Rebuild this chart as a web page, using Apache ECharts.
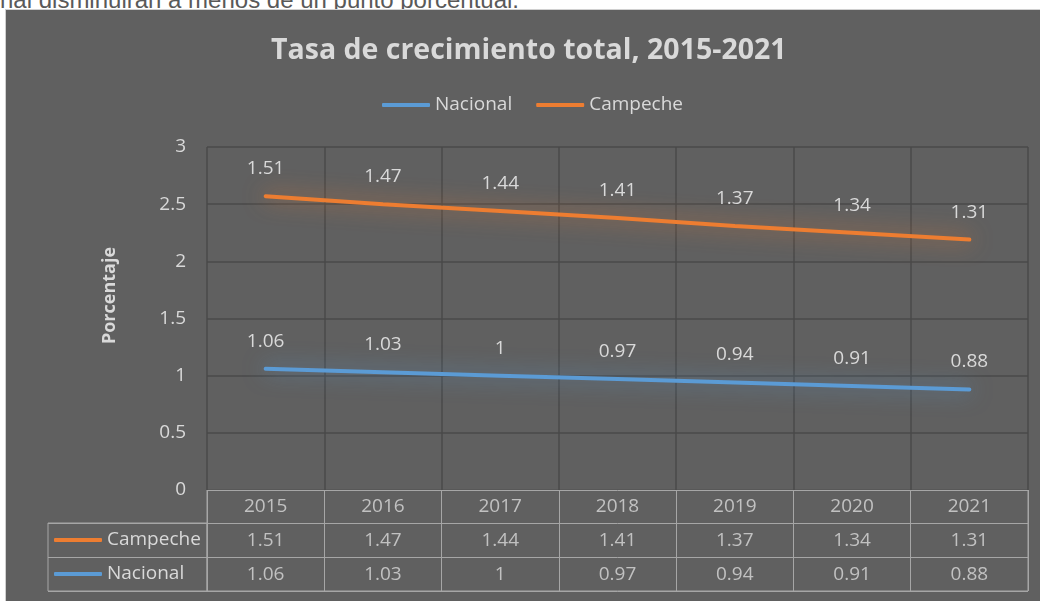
<!DOCTYPE html>
<html>
<head>
<meta charset="utf-8">
<script src="https://cdn.jsdelivr.net/npm/echarts@6/dist/echarts.min.js"></script>
<style>
  html, body { margin: 0; padding: 0; background: #fff; width: 1040px; height: 601px; overflow: hidden; position: relative; }
  #note { position: absolute; left: 0; top: -12px; line-height: 24px; font-family: 'Liberation Sans', Arial, sans-serif; font-size: 24px; color: #595959; white-space: nowrap; }
  #panel { position: absolute; left: 5px; top: 9px; width: 1040px; height: 600px; background: #606060; border: 1px solid #d0d0d0; }
  #chart { position: absolute; left: 0; top: 0; width: 1040px; height: 601px; }
</style>
</head>
<body>
<div id="note">nal disminuirán a menos de un punto porcentual.</div>
<div id="panel"></div>
<div id="chart"></div>
<script>
(function () {
  'use strict';

  var years = ['2015', '2016', '2017', '2018', '2019', '2020', '2021'];
  var nacional = [1.06, 1.03, 1, 0.97, 0.94, 0.91, 0.88];
  var campeche = [1.51, 1.47, 1.44, 1.41, 1.37, 1.34, 1.31];
  var tableRows = ['year', 'Campeche', 'Nacional'];

  var FONT = "'Open Sans', sans-serif";
  var TEXT = '#d9d9d9';
  var GRID_DARK = '#4a4a4a';
  var TABLE_LINE = '#a6a6a6';
  var SIZE = 19;

  function cellData() {
    var out = [];
    for (var i = 0; i < years.length; i += 1) {
      out.push([years[i], 'year', years[i]]);
      out.push([years[i], 'Campeche', String(campeche[i])]);
      out.push([years[i], 'Nacional', String(nacional[i])]);
    }
    return out;
  }

  function lineSeries(name, values, color, glow) {
    return {
      name: name,
      type: 'line',
      stack: 'total',
      data: values,
      xAxisIndex: 0,
      yAxisIndex: 0,
      symbol: 'circle',
      symbolSize: 0,
      showSymbol: true,
      itemStyle: { color: color },
      lineStyle: { width: 4, color: color, cap: 'round', shadowBlur: 22, shadowColor: glow },
      label: {
        show: true,
        position: 'top',
        distance: 18,
        color: TEXT,
        fontFamily: FONT,
        fontSize: SIZE,
        formatter: function (p) { return String(p.value); }
      },
      emphasis: { disabled: true },
      silent: true
    };
  }

  var chart = echarts.init(document.getElementById('chart'), null, { renderer: 'canvas' });

  chart.setOption({
    backgroundColor: 'transparent',
    animation: false,
    textStyle: { fontFamily: FONT },
    title: {
      text: 'Tasa de crecimiento total, 2015-2021',
      left: 271,
      top: 36,
      padding: 0,
      textStyle: { color: TEXT, fontFamily: FONT, fontWeight: 'bold', fontSize: 28.5 }
    },
    legend: [
      {
        data: ['Nacional', 'Campeche'],
        left: 382,
        top: 94,
        padding: 0,
        icon: 'roundRect',
        itemWidth: 48,
        itemHeight: 4,
        itemGap: 24,
        selectedMode: false,
        textStyle: { color: TEXT, fontFamily: FONT, fontSize: SIZE, lineHeight: 22 }
      },
      {
        data: ['Campeche', 'Nacional'],
        orient: 'vertical',
        left: 54,
        top: 529,
        padding: 0,
        icon: 'roundRect',
        itemWidth: 48,
        itemHeight: 4,
        itemGap: 12,
        selectedMode: false,
        textStyle: { color: TEXT, fontFamily: FONT, fontSize: SIZE, lineHeight: 22 }
      }
    ],
    grid: [
      { left: 207, right: 12, top: 147, bottom: 111 },
      { left: 207, right: 12, top: 490, bottom: 10, show: true, borderColor: TABLE_LINE, borderWidth: 1 },
      { left: 48, width: 159, top: 523, bottom: 10, show: true, borderColor: TABLE_LINE, borderWidth: 1 }
    ],
    xAxis: [
      {
        gridIndex: 0,
        type: 'category',
        data: years,
        boundaryGap: true,
        axisLine: { show: false },
        axisTick: { show: false },
        axisLabel: { show: false },
        splitLine: { show: true, lineStyle: { color: GRID_DARK, width: 1.5 } }
      },
      {
        gridIndex: 1,
        type: 'category',
        data: years,
        boundaryGap: true,
        axisLine: { show: false },
        axisTick: { show: false },
        axisLabel: { show: false },
        splitLine: { show: true, lineStyle: { color: TABLE_LINE, width: 1 } }
      },
      {
        gridIndex: 2,
        type: 'value',
        show: false
      }
    ],
    yAxis: [
      {
        gridIndex: 0,
        type: 'value',
        min: 0,
        max: 3,
        interval: 0.5,
        name: 'Porcentaje',
        nameLocation: 'middle',
        nameGap: 88,
        nameRotate: 90,
        nameTextStyle: { color: TEXT, fontFamily: FONT, fontSize: 18, fontWeight: 'bold', padding: [0, 0, 0, 46] },
        axisLine: { show: false },
        axisTick: { show: false },
        axisLabel: { color: TEXT, fontFamily: FONT, fontSize: SIZE, margin: 21 },
        splitLine: { show: true, lineStyle: { color: GRID_DARK, width: 1.5 } }
      },
      {
        gridIndex: 1,
        type: 'category',
        data: tableRows,
        inverse: true,
        boundaryGap: true,
        axisLine: { show: false },
        axisTick: { show: false },
        axisLabel: { show: false },
        splitLine: { show: true, lineStyle: { color: TABLE_LINE, width: 1 } }
      },
      {
        gridIndex: 2,
        type: 'category',
        data: ['Campeche', 'Nacional'],
        inverse: true,
        boundaryGap: true,
        axisLine: { show: false },
        axisTick: { show: false },
        axisLabel: { show: false },
        splitLine: { show: true, lineStyle: { color: TABLE_LINE, width: 1 } }
      }
    ],
    series: [
      lineSeries('Nacional', nacional, '#5b9bd5', 'rgba(91,155,213,0.8)'),
      lineSeries('Campeche', campeche, '#ed7d31', 'rgba(237,125,49,0.8)'),
      {
        name: 'tabla',
        type: 'scatter',
        xAxisIndex: 1,
        yAxisIndex: 1,
        data: cellData(),
        symbolSize: 0,
        silent: true,
        label: {
          show: true,
          position: 'inside',
          color: TEXT,
          fontFamily: FONT,
          fontSize: SIZE,
          formatter: function (p) { return p.value[2]; }
        }
      }
    ]
  });

  window.addEventListener('resize', function () {
    chart.resize();
  });
})();
</script>
</body>
</html>
